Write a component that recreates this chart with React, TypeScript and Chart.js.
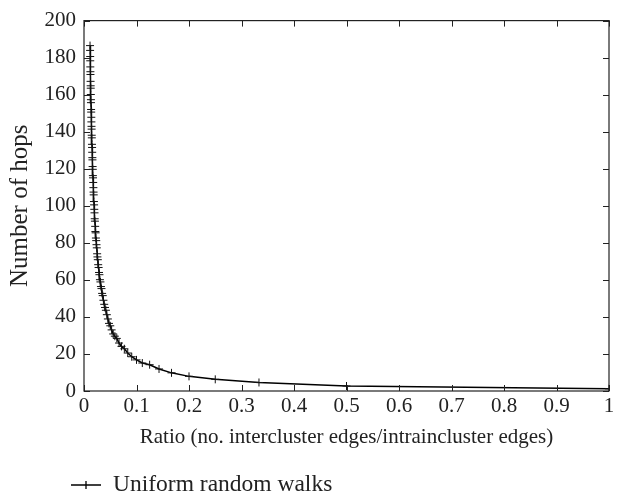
import React, { useEffect, useRef } from "react";
import { Chart, registerables } from "chart.js";

Chart.register(...registerables);

const seriesLabel = "Uniform random walks";
const xTitle = "Ratio (no. intercluster edges/intraincluster edges)";
const yTitle = "Number of hops";

const ratio = [
  1, 0.5, 0.3333, 0.25, 0.2, 0.1667, 0.1429, 0.125, 0.1111, 0.1,
  0.0909, 0.0833, 0.0769, 0.0714, 0.0667, 0.0625, 0.0588, 0.0556, 0.0526, 0.05,
  0.0476, 0.0455, 0.0435, 0.0417, 0.04, 0.0385, 0.037, 0.0357, 0.0345, 0.0333,
  0.0323, 0.0313, 0.0303, 0.0294, 0.0286, 0.0278, 0.027, 0.0263, 0.0256, 0.025,
  0.0244, 0.0238, 0.0233, 0.0227, 0.0222, 0.0217, 0.0213, 0.0208, 0.0204, 0.02,
  0.0196, 0.0192, 0.0189, 0.0185, 0.0182, 0.0179, 0.0175, 0.0172, 0.0169, 0.0167,
  0.0164, 0.0161, 0.0159, 0.0156, 0.0154, 0.0152, 0.0149, 0.0147, 0.0145, 0.0143,
  0.0141, 0.0139, 0.0137, 0.0135, 0.0133, 0.0132, 0.013, 0.0128, 0.0127, 0.0125,
  0.0123, 0.0122, 0.012, 0.0119, 0.0118, 0.0116, 0.0115,
];

const hops = [
  1.2, 2.7, 4.6, 6.3, 7.9, 9.8, 11.9, 14.2, 15.1, 16.8,
  18.5, 20.5, 22.8, 24.1, 25.9, 28.4, 29.6, 30.8, 33.0, 35.2,
  36.5, 38.9, 41.2, 43.6, 45.1, 46.8, 49.0, 51.5, 52.7, 55.3,
  56.4, 58.9, 60.1, 62.8, 64.0, 66.7, 68.2, 70.9, 72.4, 74.1,
  77.3, 79.0, 81.2, 82.6, 85.4, 86.1, 88.9, 91.7, 93.0, 96.2,
  98.1, 100.5, 102.3, 105.9, 107.4, 109.8, 112.6, 115.1, 116.3, 119.7,
  121.2, 124.8, 126.0, 128.9, 131.5, 133.2, 136.7, 138.1, 141.4, 142.9,
  145.3, 147.8, 150.6, 152.0, 155.7, 157.3, 160.1, 163.5, 164.8, 167.2,
  170.9, 172.4, 175.0, 178.3, 180.6, 183.9, 186.5,
];

const xTickLabels = ["0", "0.1", "0.2", "0.3", "0.4", "0.5", "0.6", "0.7", "0.8", "0.9", "1"];
const yTickLabels = ["0", "20", "40", "60", "80", "100", "120", "140", "160", "180", "200"];

const FONT = "'Liberation Serif', 'Times New Roman', serif";

const frameTicks = {
  id: "frameTicks",
  afterDatasetsDraw(chart: any) {
    const { ctx, chartArea, scales } = chart;
    const { left, right, top, bottom } = chartArea;
    const len = 6;
    ctx.save();
    ctx.strokeStyle = "#222";
    ctx.lineWidth = 1;
    ctx.beginPath();
    scales.x.ticks.forEach((t: any) => {
      const px = Math.round(scales.x.getPixelForValue(t.value)) + 0.5;
      ctx.moveTo(px, bottom);
      ctx.lineTo(px, bottom - len);
      ctx.moveTo(px, top);
      ctx.lineTo(px, top + len);
    });
    scales.y.ticks.forEach((t: any) => {
      const py = Math.round(scales.y.getPixelForValue(t.value)) + 0.5;
      ctx.moveTo(left, py);
      ctx.lineTo(left + len, py);
      ctx.moveTo(right, py);
      ctx.lineTo(right - len, py);
    });
    ctx.stroke();
    ctx.lineWidth = 1.2;
    ctx.strokeRect(left, top, right - left, bottom - top);
    ctx.restore();
  },
  afterDraw(chart: any) {
    const { ctx } = chart;
    const y = 485;
    ctx.save();
    ctx.strokeStyle = "#000";
    ctx.lineWidth = 1.3;
    ctx.beginPath();
    ctx.moveTo(71, y);
    ctx.lineTo(101, y);
    ctx.moveTo(86, y - 4);
    ctx.lineTo(86, y + 4);
    ctx.stroke();
    ctx.fillStyle = "#222";
    ctx.font = `23.5px ${FONT}`;
    ctx.textAlign = "left";
    ctx.textBaseline = "middle";
    ctx.fillText(seriesLabel, 113, y);
    ctx.restore();
  },
};

export default function App() {
  const ref = useRef<HTMLCanvasElement>(null);
  useEffect(() => {
    document.body.style.margin = "0";
    const canvas = ref.current!;
    const chart = new Chart(canvas, {
      type: "line",
      data: {
        datasets: [
          {
            label: seriesLabel,
            data: ratio.map((r, i) => ({ x: r, y: hops[i] })),
            borderColor: "#000",
            borderWidth: 1.5,
            pointStyle: "cross",
            pointRadius: 4,
            pointBorderWidth: 1,
            pointBorderColor: "#111",
            fill: false,
            tension: 0,
          },
        ],
      },
      options: {
        animation: false,
        responsive: false,
        maintainAspectRatio: false,
        layout: { padding: { top: 11, right: 18, bottom: 52, left: 0 } },
        plugins: { legend: { display: false }, tooltip: { enabled: false } },
        scales: {
          x: {
            type: "linear",
            min: 0,
            max: 1,
            ticks: {
              stepSize: 0.1,
              color: "#222",
              font: { family: FONT, size: 21 },
              padding: 3,
              maxRotation: 0,
              callback: (_v: any, i: number) => xTickLabels[i],
            },
            grid: { display: false, drawTicks: false },
            border: { display: false },
            title: {
              display: true,
              text: xTitle,
              color: "#222",
              font: { family: FONT, size: 21 },
              padding: { top: 0, bottom: 1 },
            },
            afterFit: (s: any) => {
              s.height = 60;
            },
          },
          y: {
            type: "linear",
            min: 0,
            max: 200,
            ticks: {
              stepSize: 20,
              color: "#222",
              font: { family: FONT, size: 21 },
              padding: 8,
              callback: (_v: any, i: number) => yTickLabels[i],
            },
            grid: { display: false, drawTicks: false },
            border: { display: false },
            title: {
              display: true,
              text: yTitle,
              color: "#222",
              font: { family: FONT, size: 25 },
              padding: { top: 5, bottom: 0 },
            },
            afterFit: (s: any) => {
              s.width = 84;
            },
          },
        },
      },
      plugins: [frameTicks],
    });
    return () => chart.destroy();
  }, []);
  return <canvas ref={ref} width={627} height={503} style={{ display: "block" }} />;
}
